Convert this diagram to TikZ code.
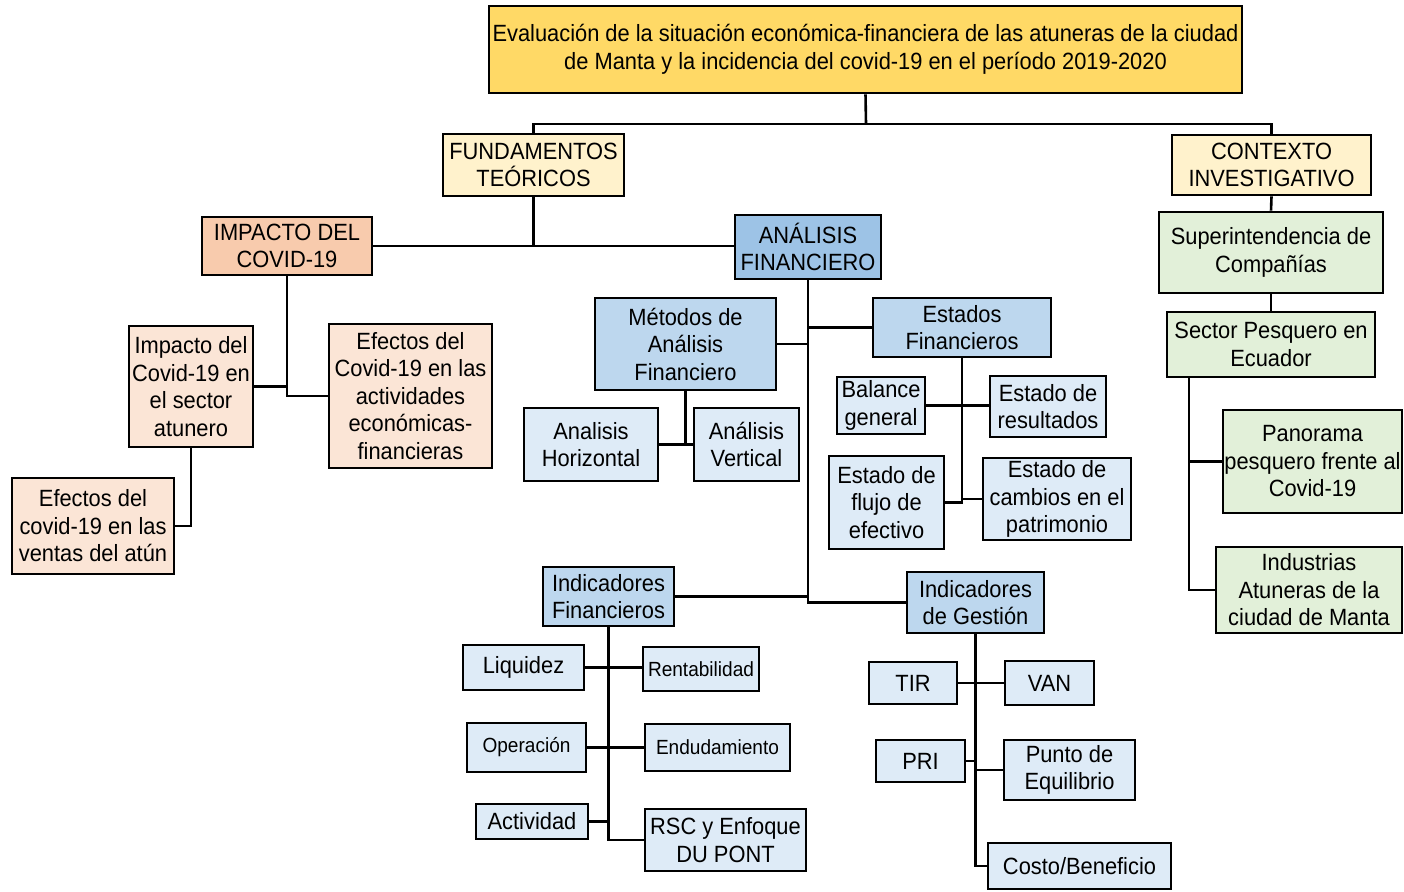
\documentclass[tikz,border=0pt]{standalone}
\usepackage{fontspec}
\setmainfont[FakeStretch=0.93]{Liberation Sans}
\usetikzlibrary{calc}
\definecolor{cTitle}{HTML}{FFD966}
\definecolor{cHead}{HTML}{FFF2CC}
\definecolor{cImp}{HTML}{F8CBAD}
\definecolor{cImpL}{HTML}{FBE5D6}
\definecolor{cAna}{HTML}{9DC3E6}
\definecolor{cMid}{HTML}{BDD7EE}
\definecolor{cLeaf}{HTML}{DEEBF7}
\definecolor{cGreen}{HTML}{E2F0D9}
\tikzset{
  box/.style={draw=black, line width=2.6pt, inner sep=0pt, align=center,
    font=\fontsize{23.5}{27.5}\selectfont},
  smalltext/.style={font=\fontsize{20.5}{24}\selectfont},
  conn/.style={draw=black, line width=2.6pt},
}
\newcommand{\bx}[8]{% name, x1, y1, x2, y2, fill, extra, text
  \node[box, fill=#6, minimum width={(#4-#2)*1pt}, minimum height={(#5-#3)*1pt}, #7]
    (#1) at ({(#2+#4)/2},{(#3+#5)/2}) {#8};}
\begin{document}
\begin{tikzpicture}[x=1pt,y=-1pt]
\useasboundingbox[fill=white] (0,0) rectangle (1404,891);
% level 0
\bx{title}{489}{6}{1242}{93}{cTitle}{}{Evaluación de la situación económica-financiera de las atuneras de la ciudad\\de Manta y la incidencia del covid-19 en el período 2019-2020}
% level 1
\bx{fund}{443}{134}{624}{196}{cHead}{}{FUNDAMENTOS\\TEÓRICOS}
\bx{ctx}{1172}{135}{1371}{195}{cHead}{}{CONTEXTO\\INVESTIGATIVO}
% left branch
\bx{imp}{202}{217}{372}{275}{cImp}{}{IMPACTO DEL\\COVID-19}
\bx{ana}{735}{215}{881}{279}{cAna}{}{ANÁLISIS\\FINANCIERO}
\bx{sect}{129}{326}{253}{447}{cImpL}{}{Impacto del\\Covid-19 en\\el sector\\atunero}
\bx{efec}{329}{324}{492}{468}{cImpL}{}{Efectos del\\Covid-19 en las\\actividades\\económicas-\\financieras}
\bx{vent}{12}{478}{174}{574}{cImpL}{}{Efectos del\\covid-19 en las\\ventas del atún}
% methods
\bx{met}{595}{298}{776}{390}{cMid}{}{Métodos de\\Análisis\\Financiero}
\bx{hor}{524}{408}{658}{481}{cLeaf}{}{Analisis\\Horizontal}
\bx{ver}{694}{408}{799}{481}{cLeaf}{}{Análisis\\Vertical}
% estados
\bx{est}{873}{298}{1051}{357}{cMid}{}{Estados\\Financieros}
\bx{bal}{837}{377}{925}{434}{cLeaf}{}{Balance\\general}
\bx{res}{990}{376}{1106}{437}{cLeaf}{}{Estado de\\resultados}
\bx{flu}{829}{456}{944}{549}{cLeaf}{}{Estado de\\flujo de\\efectivo}
\bx{cam}{983}{458}{1131}{540}{cLeaf}{}{Estado de\\cambios en el\\patrimonio}
% indicadores financieros
\bx{indf}{543}{567}{674}{626}{cMid}{}{Indicadores\\Financieros}
\bx{liq}{463}{645}{584}{690}{cLeaf}{}{Liquidez}
\bx{ren}{643}{647}{759}{691}{cLeaf}{smalltext}{Rentabilidad}
\bx{ope}{467}{723}{586}{772}{cLeaf}{smalltext}{Operación}
\bx{endu}{645}{724}{790}{771}{cLeaf}{smalltext}{Endudamiento}
\bx{act}{476}{804}{588}{839}{cLeaf}{}{Actividad}
\bx{rsc}{645}{809}{806}{871}{cLeaf}{}{RSC y Enfoque\\DU PONT}
% indicadores de gestion
\bx{indg}{907}{572}{1044}{633}{cMid}{}{Indicadores\\de Gestión}
\bx{tir}{869}{662}{957}{704}{cLeaf}{}{TIR}
\bx{van}{1005}{661}{1094}{705}{cLeaf}{}{VAN}
\bx{pri}{876}{740}{965}{782}{cLeaf}{}{PRI}
\bx{pun}{1004}{740}{1135}{800}{cLeaf}{}{Punto de\\Equilibrio}
\bx{cos}{988}{843}{1171}{889}{cLeaf}{}{Costo/Beneficio}
% contexto
\bx{sup}{1159}{212}{1383}{293}{cGreen}{}{Superintendencia de\\Compañías}
\bx{sec}{1167}{312}{1375}{377}{cGreen}{}{Sector Pesquero en\\Ecuador}
\bx{pan}{1223}{410}{1402}{513}{cGreen}{}{Panorama\\pesquero frente al\\Covid-19}
\bx{ind}{1216}{547}{1402}{633}{cGreen}{}{Industrias\\Atuneras de la\\ciudad de Manta}
% connectors
\coordinate (tj) at (866,124);
\draw[conn] (title.south) -- (tj);
\draw[conn] (fund.north) |- (tj) -| (ctx.north);
\draw[conn] (fund.south) -- (fund.south |- imp.east);
\draw[conn] (imp.east) -- (imp.east -| ana.west);
\draw[conn] (imp.south) |- (sect.east);
\draw[conn] (imp.south) |- (efec.west);
\draw[conn] (sect.south) |- (vent.east);
\draw[conn] (ana.south) |- (indg.west);
\draw[conn] (met.east) -- (met.east -| ana.south);
\draw[conn] (est.west) -- (est.west -| ana.south);
\draw[conn] (indf.east) -- (indf.east -| ana.south);
\draw[conn] (met.south) -- (met.south |- hor.east);
\draw[conn] (hor.east) -- (ver.west);
\draw[conn] (est.south) |- (flu.east);
\draw[conn] (bal.east) -- (bal.east -| res.west);
\draw[conn] (cam.west) -- (cam.west -| est.south);
\draw[conn] (indf.south) |- (rsc.west);
\draw[conn] (liq.east) -- (liq.east -| ren.west);
\draw[conn] (ope.east) -- (endu.west);
\draw[conn] (act.east) -- (act.east -| indf.south);
\draw[conn] (indg.south) |- (cos.west);
\draw[conn] (tir.east) -- (van.west);
\draw[conn] (pri.east) -- (pri.east -| indg.south);
\draw[conn] (pun.west) -- (pun.west -| indg.south);
\draw[conn] (ctx.south) -- (sup.north);
\draw[conn] (sup.south) -- (sec.north);
\coordinate (secb) at (1189,377);
\draw[conn] (secb) |- (ind.west);
\draw[conn] (pan.west) -- (pan.west -| secb);
\end{tikzpicture}
\end{document}
